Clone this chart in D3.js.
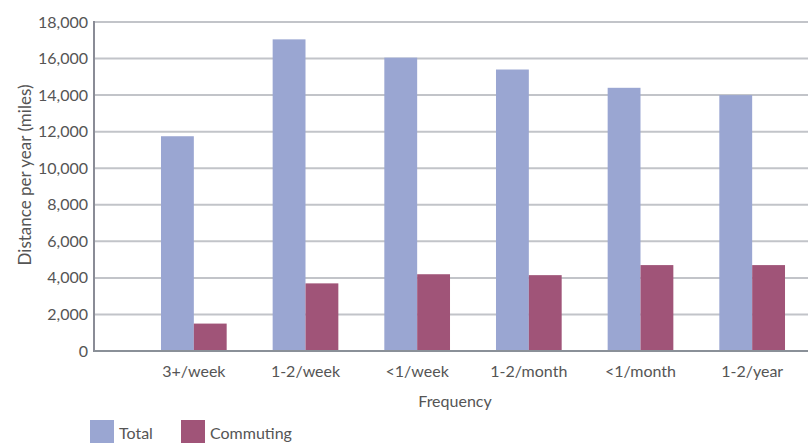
<!DOCTYPE html>
<html>
<head>
<meta charset="utf-8">
<script src="https://cdn.jsdelivr.net/npm/d3@7"></script>
<style>
  body { margin: 0; background: #fff; }
  text { font-family: Lato, "Open Sans", sans-serif; fill: #555; }
</style>
</head>
<body>
<div id="chart"></div>
<script>
// frequency of travel vs distance per year
var categories = ["3+/week", "1-2/week", "<1/week", "1-2/month", "<1/month", "1-2/year"];
var series = ["Total", "Commuting"];
var totalValues = [11750, 17050, 16050, 15400, 14400, 14000];
var commutingValues = [1500, 3700, 4200, 4150, 4700, 4700];
var yTicks = [0, 2000, 4000, 6000, 8000, 10000, 12000, 14000, 16000, 18000];

var colors = { "Total": "#9aa6d2", "Commuting": "#a05478" };

var width = 811,
    height = 445;

var rows = categories.map(function(c, i) {
    return { cat: c, Total: totalValues[i], Commuting: commutingValues[i] };
});

var svg = d3.select("#chart").append("svg")
    .attr("width", width)
    .attr("height", height);

var axisLeft = 94,
    plotLeft = 138,
    plotRight = 808,
    plotTop = 22,
    plotBottom = 351;

var x0 = d3.scaleBand()
    .domain(categories)
    .range([plotLeft, plotRight]);

var x1 = d3.scaleBand()
    .domain(series)
    .range([0, x0.bandwidth()])
    .paddingOuter(0.7);

var y = d3.scaleLinear()
    .domain([0, 18000])
    .range([plotBottom, plotTop]);

// gridlines
svg.selectAll(".grid")
    .data(yTicks.filter(function(d) { return d > 0; }))
    .enter()
    .append("line")
    .attr("x1", axisLeft)
    .attr("x2", plotRight)
    .attr("y1", function(d) { return y(d); })
    .attr("y2", function(d) { return y(d); })
    .style("stroke", "#c2c4c9")
    .style("stroke-width", 2);

// y tick labels
svg.selectAll(".ytick")
    .data(yTicks)
    .enter()
    .append("text")
    .attr("x", 88)
    .attr("y", function(d) { return y(d); })
    .attr("dy", "0.35em")
    .attr("text-anchor", "end")
    .style("font-size", "16px")
    .text(function(d) { return d3.format(",")(d); });

// bars
var groups = svg.selectAll(".cat")
    .data(rows)
    .enter()
    .append("g")
    .attr("transform", function(d) { return "translate(" + x0(d.cat) + ",0)"; });

groups.selectAll("rect")
    .data(function(d) {
        return series.map(function(s) { return { key: s, value: d[s] }; });
    })
    .enter()
    .append("rect")
    .attr("x", function(d) { return x1(d.key); })
    .attr("y", function(d) { return y(d.value); })
    .attr("width", x1.bandwidth())
    .attr("height", function(d) { return y(0) - y(d.value); })
    .style("fill", function(d) { return colors[d.key]; });

// axis lines
svg.append("line")
    .attr("x1", axisLeft).attr("x2", axisLeft)
    .attr("y1", plotTop - 1).attr("y2", plotBottom + 1)
    .style("stroke", "#8a8c96")
    .style("stroke-width", 2);
svg.append("line")
    .attr("x1", axisLeft).attr("x2", plotRight)
    .attr("y1", plotBottom).attr("y2", plotBottom)
    .style("stroke", "#8a9098")
    .style("stroke-width", 2);

// x labels
svg.selectAll(".xtick")
    .data(categories)
    .enter()
    .append("text")
    .attr("x", function(d) { return x0(d) + x0.bandwidth() / 2; })
    .attr("y", 377)
    .attr("text-anchor", "middle")
    .style("font-size", "16px")
    .text(function(d) { return d; });

// axis titles
svg.append("text")
    .attr("x", 455)
    .attr("y", 407)
    .attr("text-anchor", "middle")
    .style("font-size", "16px")
    .text("Frequency");

svg.append("text")
    .attr("transform", "translate(31,175) rotate(-90)")
    .attr("text-anchor", "middle")
    .style("font-size", "17px")
    .text("Distance per year (miles)");

// legend
var legend = svg.selectAll(".legend")
    .data(series)
    .enter()
    .append("g")
    .attr("transform", function(d, i) { return "translate(" + (90 + i * 91) + ",420)"; });

legend.append("rect")
    .attr("width", 24)
    .attr("height", 23)
    .style("fill", function(d) { return colors[d]; });

legend.append("text")
    .attr("x", 29)
    .attr("y", 19)
    .style("font-size", "16px")
    .text(function(d) { return d; });
</script>
</body>
</html>
